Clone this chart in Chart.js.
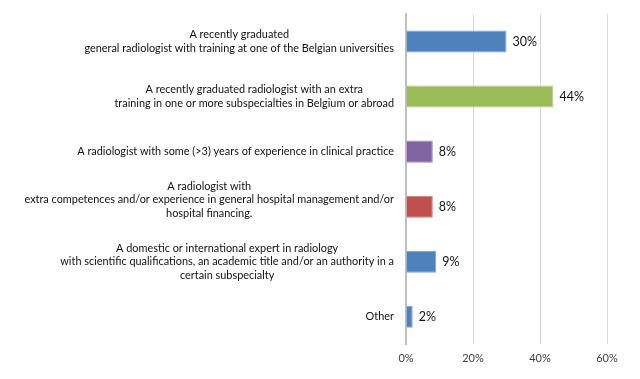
<!DOCTYPE html>
<html><head><meta charset="utf-8">
<script src="https://cdn.jsdelivr.net/npm/chart.js@4/dist/chart.umd.min.js"></script>
<style>html,body{margin:0;padding:0;background:#fff}#wrap{width:640px;height:379px}</style>
</head><body><div id="wrap"><canvas id="c" width="640" height="379"></canvas></div>
<script>
const categories = [
  ["A recently graduated", "general radiologist with training at one of the Belgian universities"],
  ["A recently graduated radiologist with an extra", "training in one or more subspecialties in Belgium or abroad"],
  ["A radiologist with some (>3) years of experience in clinical practice"],
  ["A radiologist with", "extra competences and/or experience in general hospital management and/or", "hospital financing.", ""],
  ["A domestic or international expert in radiology", "with scientific qualifications, an academic title and/or an authority in a", "certain subspecialty"],
  ["Other"]
];
const values = [30, 44, 8, 8, 9, 2];
const barColors = ["#4F81BD", "#9BBB59", "#8064A2", "#C0504D", "#4F81BD", "#4F81BD"];
const borderColors = ["#7D9FD0", "#B4CC84", "#9C87B8", "#D07B79", "#7D9FD0", "#7D9FD0"];
const xTicks = [0, 20, 40, 60];

const FONT = "Lato, 'Open Sans', sans-serif";

const labelPlugin = {
  id: 'labels',
  afterDraw(chart) {
    const ctx = chart.ctx;
    const ys = chart.scales.y, xs = chart.scales.x;
    const area = chart.chartArea;
    ctx.save();
    ctx.fillStyle = '#111111';
    ctx.font = '10.9px ' + FONT;
    ctx.textBaseline = 'middle';
    ctx.textAlign = 'center';
    const lh = 13.5;
    categories.forEach((lines, i) => {
      const y = ys.getPixelForValue(i);
      const maxW = Math.max(...lines.map(l => ctx.measureText(l).width));
      const cx = area.left - 12 - maxW / 2;
      const y0 = y - (lines.length - 1) * lh / 2;
      lines.forEach((l, j) => ctx.fillText(l, cx, y0 + j * lh));
    });
    ctx.font = '12.5px ' + FONT;
    ctx.textAlign = 'left';
    ctx.fillStyle = '#111111';
    values.forEach((v, i) => {
      const y = ys.getPixelForValue(i);
      const x = xs.getPixelForValue(v);
      ctx.fillText(v + '%', x + 6, y);
    });
    ctx.restore();
  }
};

new Chart(document.getElementById('c'), {
  type: 'bar',
  data: {
    labels: categories.map(l => l.join(' ')),
    datasets: [{
      data: values,
      backgroundColor: barColors,
      borderColor: borderColors,
      borderWidth: 1,
      categoryPercentage: 0.4,
      barPercentage: 1
    }]
  },
  options: {
    indexAxis: 'y',
    responsive: false,
    animation: false,
    layout: { padding: { left: 406, right: 33, top: 14, bottom: 5.5 } },
    plugins: { legend: { display: false }, tooltip: { enabled: false } },
    scales: {
      x: {
        min: 0, max: 60,
        afterBuildTicks(s) { s.ticks = xTicks.map(v => ({ value: v })); },
        grid: { color: '#D9D9D9', lineWidth: 1, drawTicks: false },
        border: { display: false },
        ticks: { padding: 8, color: '#404040', font: { family: FONT, size: 11 }, callback: v => v + '%' }
      },
      y: {
        grid: { display: false, drawTicks: false },
        border: { display: true, color: '#BFBFBF', width: 2 },
        ticks: { display: false }
      }
    }
  },
  plugins: [labelPlugin]
});
</script></body></html>
